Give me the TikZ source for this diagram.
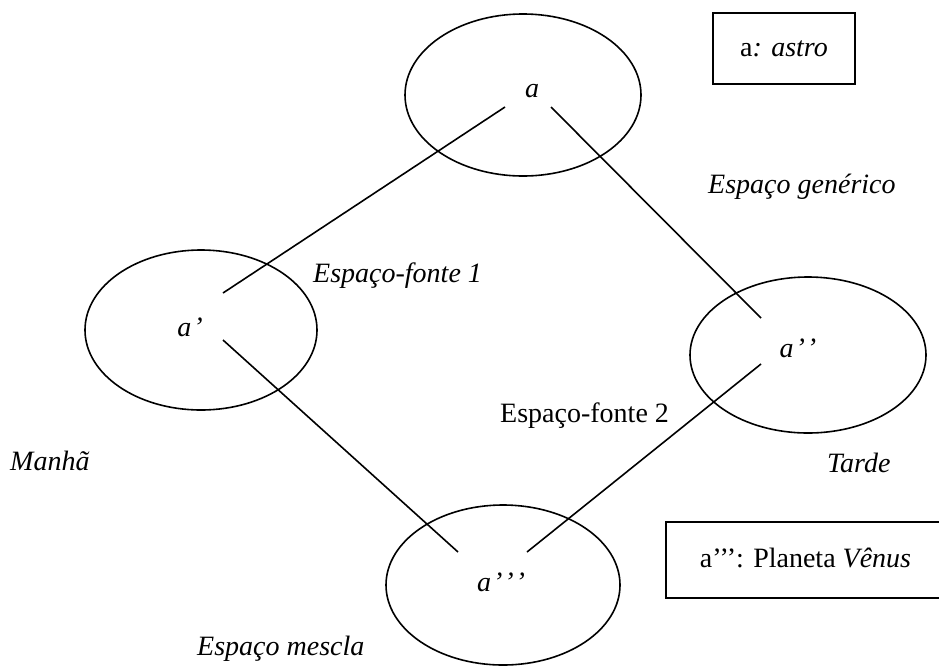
\documentclass[tikz,border=0pt]{standalone}
\usepackage{fontspec}
\setmainfont{Liberation Serif}
\usetikzlibrary{shapes.geometric}
\begin{document}
\begin{tikzpicture}[x=1pt,y=-1pt,
  every node/.style={font=\fontsize{28}{33}\selectfont, inner sep=0pt},
  space/.style={ellipse, draw, line width=1.6pt, inner sep=0pt},
  link/.style={line width=1.6pt},
  lbl/.style={anchor=base west, font=\fontsize{28}{33}\selectfont\itshape},
  keybox/.style={draw, line width=1.9pt, rectangle}]
\useasboundingbox (0,0) rectangle (939,665);

% mental spaces
\node[space, minimum width=236pt, minimum height=162pt] (gen) at (523,95) {};
\node[space, minimum width=232pt, minimum height=160pt] (src1) at (201,330) {};
\node[space, minimum width=236pt, minimum height=156pt] (src2) at (808,355) {};
\node[space, minimum width=234pt, minimum height=160pt] (blend) at (503,585) {};

% elements inside the spaces
\node (ea) at (532,91) {\itshape a};
\node (eb) at (190,327) {\itshape a\kern2pt’};
\node (ec) at (798,348) {\itshape a\kern2pt’\kern2pt’};
\node (ed) at (501,582) {\itshape a\kern2pt’\kern2pt’\kern2pt’};

% ends of the cross-space links
\coordinate (ea-l) at (505,107);
\coordinate (ea-r) at (551,107);
\coordinate (eb-u) at (223,293);
\coordinate (eb-d) at (223,340);
\coordinate (ec-u) at (761,318);
\coordinate (ec-d) at (761,364);
\coordinate (ed-l) at (458,552);
\coordinate (ed-r) at (527,552);

\draw[link] (ea-l) -- (eb-u);
\draw[link] (ea-r) -- (ec-u);
\draw[link] (eb-d) -- (ed-l);
\draw[link] (ec-d) -- (ed-r);

% space labels
\node[lbl] (lgen) at (708,193) {Espaço genérico};
\node[lbl] (lsrc1) at (313,282) {Espaço-fonte 1};
\node[lbl, font=\fontsize{28}{33}\selectfont\upshape] (lsrc2) at (500,422) {Espaço-fonte 2};
\node[lbl] (lman) at (10,470) {Manhã};
\node[lbl] (ltar) at (827,472) {Tarde};
\node[lbl] (lbl-blend) at (197,655) {Espaço mescla};

% legend boxes
\node[keybox, minimum width=142pt, minimum height=71pt] (key1) at (784,48.5) {a\textit{: astro}};
\draw[line width=1.9pt] (940,522) -- (666,522) -- (666,598) -- (940,598);
\node[anchor=base] (key2) at (805.5,567) {a’’’: Planeta \textit{Vênus}};
\end{tikzpicture}
\end{document}
